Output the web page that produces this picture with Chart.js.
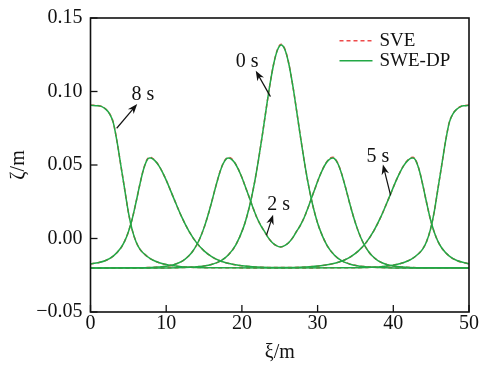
<!DOCTYPE html>
<html><head><meta charset="utf-8">
<script src="https://cdn.jsdelivr.net/npm/chart.js@4.4.0/dist/chart.umd.min.js"></script>
<style>html,body{margin:0;padding:0;background:#fff;}canvas{display:block;}</style>
</head><body>
<canvas id="c" width="481" height="367"></canvas>
<script>
// ---- data ----
const xTicks = [0, 10, 20, 30, 40, 50];
const yTicks = [-0.05, 0, 0.05, 0.10, 0.15];
const seriesNames = ['SVE', 'SWE-DP'];
const timeLabels = ['0 s', '2 s', '5 s', '8 s'];

// t = 0 s
const x0s = [0, 5, 9.2, 13.2, 15.2, 16.2, 17.2, 18.2, 19.2, 20.2, 20.7, 21.2, 21.7, 22.2, 22.7, 23.2, 23.7, 24.2, 24.7, 25.2, 25.7, 26.2, 26.7, 27.2, 27.7, 28.2, 28.7, 29.2, 29.7, 30.2, 31.2, 32.2, 33.2, 34.2, 35.2, 37.2, 41.2, 45.4, 50];
const swe0s = [-0.02, -0.02, -0.02, -0.0195, -0.0185, -0.0173, -0.0152, -0.0112, -0.0043, 0.0074, 0.0158, 0.0262, 0.0389, 0.0538, 0.0704, 0.0879, 0.1046, 0.1187, 0.1282, 0.1316, 0.1282, 0.1187, 0.1046, 0.0879, 0.0704, 0.0538, 0.0389, 0.0262, 0.0158, 0.0074, -0.0043, -0.0112, -0.0152, -0.0173, -0.0185, -0.0195, -0.02, -0.02, -0.02];
const sve0s = [-0.02, -0.02, -0.02, -0.0195, -0.0185, -0.0173, -0.0152, -0.0112, -0.0043, 0.0074, 0.0158, 0.0262, 0.0389, 0.0538, 0.0704, 0.0879, 0.1047, 0.1189, 0.1286, 0.1321, 0.1286, 0.1189, 0.1047, 0.0879, 0.0704, 0.0538, 0.0389, 0.0262, 0.0158, 0.0074, -0.0043, -0.0112, -0.0152, -0.0173, -0.0185, -0.0195, -0.02, -0.02, -0.02];

// t = 2 s
const x2s = [0, 6, 8, 9, 10, 11, 12, 12.5, 13, 13.5, 14, 14.5, 15, 15.5, 16, 16.5, 17, 17.5, 18, 18.2, 18.5, 19, 19.5, 20, 20.5, 21, 21.5, 22, 22.5, 23, 23.5, 24, 24.5, 25.1, 25.7, 26.2, 26.7, 27.2, 27.7, 28.2, 28.7, 29.2, 29.7, 30.2, 30.7, 31.2, 31.7, 32.0, 32.2, 32.7, 33.2, 33.7, 34.2, 34.7, 35.2, 35.7, 36.2, 36.7, 37.2, 37.7, 38.2, 39.2, 40.2, 41.2, 42.2, 44.2, 50];
const swe2s = [-0.0200, -0.0199, -0.0197, -0.0194, -0.0189, -0.0178, -0.0157, -0.0140, -0.0118, -0.0087, -0.0046, 0.0007, 0.0074, 0.0155, 0.0247, 0.0345, 0.0436, 0.0507, 0.0545, 0.0548, 0.0544, 0.0519, 0.0474, 0.0415, 0.0346, 0.0275, 0.0204, 0.0139, 0.0088, 0.0047, 0.0004, -0.0027, -0.0047, -0.0058, -0.0047, -0.0027, 0.0004, 0.0047, 0.0088, 0.0139, 0.0204, 0.0275, 0.0346, 0.0415, 0.0474, 0.0519, 0.0544, 0.0548, 0.0545, 0.0507, 0.0436, 0.0345, 0.0247, 0.0155, 0.0074, 0.0007, -0.0046, -0.0087, -0.0118, -0.0140, -0.0157, -0.0178, -0.0189, -0.0194, -0.0197, -0.0199, -0.0200];
const sve2s = [-0.0200, -0.0199, -0.0197, -0.0194, -0.0189, -0.0178, -0.0157, -0.0140, -0.0118, -0.0087, -0.0046, 0.0007, 0.0074, 0.0155, 0.0247, 0.0345, 0.0437, 0.0509, 0.0549, 0.0553, 0.0548, 0.0521, 0.0475, 0.0415, 0.0346, 0.0275, 0.0204, 0.0139, 0.0088, 0.0047, 0.0004, -0.0027, -0.0047, -0.0058, -0.0047, -0.0027, 0.0004, 0.0047, 0.0088, 0.0139, 0.0204, 0.0275, 0.0346, 0.0415, 0.0475, 0.0521, 0.0548, 0.0553, 0.0549, 0.0509, 0.0437, 0.0345, 0.0247, 0.0155, 0.0074, 0.0007, -0.0046, -0.0087, -0.0118, -0.0140, -0.0157, -0.0178, -0.0189, -0.0194, -0.0197, -0.0199, -0.0200];

// t = 5 s
const x5s = [0, 1, 2, 3, 4, 4.5, 5, 5.5, 6, 6.5, 7, 7.5, 7.8, 8, 8.5, 9, 9.5, 10, 11, 12, 13, 14, 15, 16, 17, 18, 20, 22, 25.2, 28.4, 30.4, 32.4, 33.4, 34.4, 35.4, 36.4, 37.4, 38.4, 39.4, 40.4, 40.9, 41.4, 41.9, 42.4, 42.6, 42.9, 43.4, 43.9, 44.4, 44.9, 45.4, 45.9, 46.4, 47.4, 48.4, 49.4, 50];
const swe5s = [-0.0172, -0.0165, -0.0150, -0.0120, -0.0065, -0.0020, 0.0045, 0.0131, 0.0243, 0.0363, 0.0469, 0.0536, 0.0548, 0.0547, 0.0530, 0.0498, 0.0452, 0.0397, 0.0273, 0.0152, 0.0050, -0.0028, -0.0084, -0.0123, -0.0150, -0.0167, -0.0186, -0.0194, -0.0198, -0.0194, -0.0186, -0.0167, -0.0150, -0.0123, -0.0084, -0.0028, 0.0050, 0.0152, 0.0273, 0.0397, 0.0452, 0.0498, 0.0530, 0.0547, 0.0548, 0.0536, 0.0469, 0.0363, 0.0243, 0.0131, 0.0045, -0.0020, -0.0065, -0.0120, -0.0150, -0.0165, -0.0172];
const sve5s = [-0.0172, -0.0165, -0.0150, -0.0120, -0.0065, -0.0020, 0.0045, 0.0131, 0.0243, 0.0364, 0.0471, 0.0540, 0.0553, 0.0551, 0.0532, 0.0499, 0.0452, 0.0397, 0.0273, 0.0152, 0.0050, -0.0028, -0.0084, -0.0123, -0.0150, -0.0167, -0.0186, -0.0194, -0.0198, -0.0194, -0.0186, -0.0167, -0.0150, -0.0123, -0.0084, -0.0028, 0.0050, 0.0152, 0.0273, 0.0397, 0.0452, 0.0499, 0.0532, 0.0551, 0.0553, 0.0540, 0.0471, 0.0364, 0.0243, 0.0131, 0.0045, -0.0020, -0.0065, -0.0120, -0.0150, -0.0165, -0.0172];

// t = 8 s
const x8s = [0, 1, 1.5, 2, 2.5, 3, 3.5, 4, 4.5, 5, 5.5, 6, 6.5, 7, 8, 9, 10, 11, 12, 14, 16, 25.2, 34.4, 36.4, 38.4, 39.4, 40.4, 41.4, 42.4, 43.4, 43.9, 44.4, 44.9, 45.4, 45.9, 46.4, 46.9, 47.4, 47.9, 48.4, 48.9, 49.4, 50];
const swe8s = [0.0906, 0.0903, 0.0897, 0.0880, 0.0850, 0.0790, 0.0660, 0.0500, 0.0340, 0.0180, 0.0060, -0.0020, -0.0070, -0.0100, -0.0140, -0.0163, -0.0177, -0.0186, -0.0192, -0.0197, -0.0199, -0.0200, -0.0199, -0.0197, -0.0192, -0.0186, -0.0177, -0.0163, -0.0140, -0.0100, -0.0070, -0.0020, 0.0060, 0.0180, 0.0340, 0.0500, 0.0660, 0.0790, 0.0850, 0.0880, 0.0897, 0.0903, 0.0906];
const sve8s = [0.0907, 0.0904, 0.0898, 0.0881, 0.0851, 0.0791, 0.0661, 0.0500, 0.0340, 0.0180, 0.0060, -0.0020, -0.0070, -0.0100, -0.0140, -0.0163, -0.0177, -0.0186, -0.0192, -0.0197, -0.0199, -0.0200, -0.0199, -0.0197, -0.0192, -0.0186, -0.0177, -0.0163, -0.0140, -0.0100, -0.0070, -0.0020, 0.0060, 0.0180, 0.0340, 0.0500, 0.0661, 0.0791, 0.0851, 0.0881, 0.0898, 0.0904, 0.0907];

// ---- styling / placement ----
const FONT = "'Liberation Serif', 'DejaVu Serif', serif";
const INK = '#111111';
const RED = '#ee4a4a';
const GREEN = '#22a845';

// annotation placement (data coordinates)
const notePlaces = [
  { tx: 20.7, ty: 0.1203, from: [23.77, 0.0965], to: [21.83, 0.1142] },
  { tx: 24.87, ty: 0.0228, from: [23.25, 0.0023], to: [24.12, 0.0162] },
  { tx: 37.97, ty: 0.0553, from: [39.64, 0.0294], to: [38.63, 0.0503] },
  { tx: 6.93, ty: 0.0977, from: [3.46, 0.075], to: [6.17, 0.0915] }
];

const curves = [[x0s, sve0s, swe0s], [x2s, sve2s, swe2s], [x5s, sve5s, swe5s], [x8s, sve8s, swe8s]];
const datasets = [];
curves.forEach(([xs, a, b]) => {
  datasets.push({ label: seriesNames[0], data: xs.map((x, i) => ({ x, y: a[i] })), borderColor: RED, borderDash: [4, 3], borderWidth: 1.5, pointRadius: 0, cubicInterpolationMode: 'monotone', fill: false, order: 1 });
  datasets.push({ label: seriesNames[1], data: xs.map((x, i) => ({ x, y: b[i] })), borderColor: GREEN, borderWidth: 1.5, pointRadius: 0, cubicInterpolationMode: 'monotone', fill: false, order: 0 });
});

function fmtY(v) {
  const s = (Math.abs(v) < 1e-9 ? 0 : v).toFixed(2);
  return s.replace('-', '\u2212');
}

function drawArrow(ctx, x1, y1, x2, y2) {
  const ang = Math.atan2(y2 - y1, x2 - x1);
  const L = 10, W = 3.8;
  const bx = x2 - L * Math.cos(ang), by = y2 - L * Math.sin(ang);
  ctx.beginPath(); ctx.moveTo(x1, y1); ctx.lineTo(x2 - 6 * Math.cos(ang), y2 - 6 * Math.sin(ang)); ctx.stroke();
  const nx = x2 - 7 * Math.cos(ang), ny = y2 - 7 * Math.sin(ang);
  ctx.beginPath();
  ctx.moveTo(x2, y2);
  ctx.lineTo(bx + W * Math.sin(ang), by - W * Math.cos(ang));
  ctx.lineTo(nx, ny);
  ctx.lineTo(bx - W * Math.sin(ang), by + W * Math.cos(ang));
  ctx.closePath(); ctx.fill();
}

const decor = {
  id: 'decor',
  afterDraw(chart) {
    const { ctx, chartArea: a, scales: { x, y } } = chart;
    ctx.save();
    ctx.strokeStyle = INK; ctx.fillStyle = INK;
    // inner ticks
    ctx.lineWidth = 1.3;
    xTicks.forEach(v => { const px = x.getPixelForValue(v); ctx.beginPath(); ctx.moveTo(px, a.bottom); ctx.lineTo(px, a.bottom - 7); ctx.stroke(); });
    yTicks.forEach(v => { const py = y.getPixelForValue(v); ctx.beginPath(); ctx.moveTo(a.left, py); ctx.lineTo(a.left + 7, py); ctx.stroke(); });
    // frame
    ctx.lineWidth = 1.6;
    ctx.strokeRect(a.left, a.top, a.right - a.left, a.bottom - a.top);
    // annotations
    ctx.lineWidth = 1.2;
    ctx.font = '20px ' + FONT;
    ctx.textAlign = 'center'; ctx.textBaseline = 'middle';
    notePlaces.forEach((n, i) => {
      ctx.fillText(timeLabels[i], x.getPixelForValue(n.tx), y.getPixelForValue(n.ty));
      drawArrow(ctx, x.getPixelForValue(n.from[0]), y.getPixelForValue(n.from[1]), x.getPixelForValue(n.to[0]), y.getPixelForValue(n.to[1]));
    });
    // legend
    const lx0 = a.right - 129.5, lx1 = a.right - 96.5, tx = a.right - 89.5;
    const rows = [a.top + 22.7, a.top + 42.7];
    ctx.lineWidth = 1.5;
    ctx.strokeStyle = RED; ctx.setLineDash([4, 3]);
    ctx.beginPath(); ctx.moveTo(lx0, rows[0]); ctx.lineTo(lx1, rows[0]); ctx.stroke();
    ctx.setLineDash([]);
    ctx.strokeStyle = GREEN;
    ctx.beginPath(); ctx.moveTo(lx0, rows[1]); ctx.lineTo(lx1, rows[1]); ctx.stroke();
    ctx.fillStyle = INK; ctx.font = '19px ' + FONT; ctx.textAlign = 'left';
    ctx.fillText(seriesNames[0], tx, rows[0]);
    ctx.fillText(seriesNames[1], tx, rows[1]);
    ctx.restore();
  }
};

new Chart(document.getElementById('c'), {
  type: 'line',
  data: { datasets },
  options: {
    responsive: false, animation: false, devicePixelRatio: 1,
    layout: { padding: { top: 9, right: 11.5, left: 0, bottom: 0 } },
    plugins: { legend: { display: false }, tooltip: { enabled: false } },
    scales: {
      x: {
        type: 'linear', min: 0, max: 50,
        afterBuildTicks: s => { s.ticks = xTicks.map(v => ({ value: v })); },
        grid: { display: false, drawTicks: false }, border: { display: false },
        ticks: { font: { family: FONT, size: 20, lineHeight: 1 }, color: INK, padding: 2, maxRotation: 0, autoSkip: false },
        title: { display: true, text: 'ξ/m', font: { family: FONT, size: 20 }, color: INK, padding: { top: 0, bottom: 2 } },
        afterFit: s => { s.height = 55; }
      },
      y: {
        type: 'linear', min: -0.05, max: 0.15,
        afterBuildTicks: s => { s.ticks = yTicks.map(v => ({ value: v })); },
        grid: { display: false, drawTicks: false }, border: { display: false },
        ticks: { font: { family: FONT, size: 20, lineHeight: 1 }, color: INK, padding: 8, callback: v => fmtY(v), autoSkip: false },
        title: { display: true, text: 'ζ/m', font: { family: FONT, size: 20 }, color: INK, padding: { top: 6.5, bottom: 0 } },
        afterFit: s => { s.width = 90.5; }
      }
    }
  },
  plugins: [decor]
});
</script>
</body></html>
